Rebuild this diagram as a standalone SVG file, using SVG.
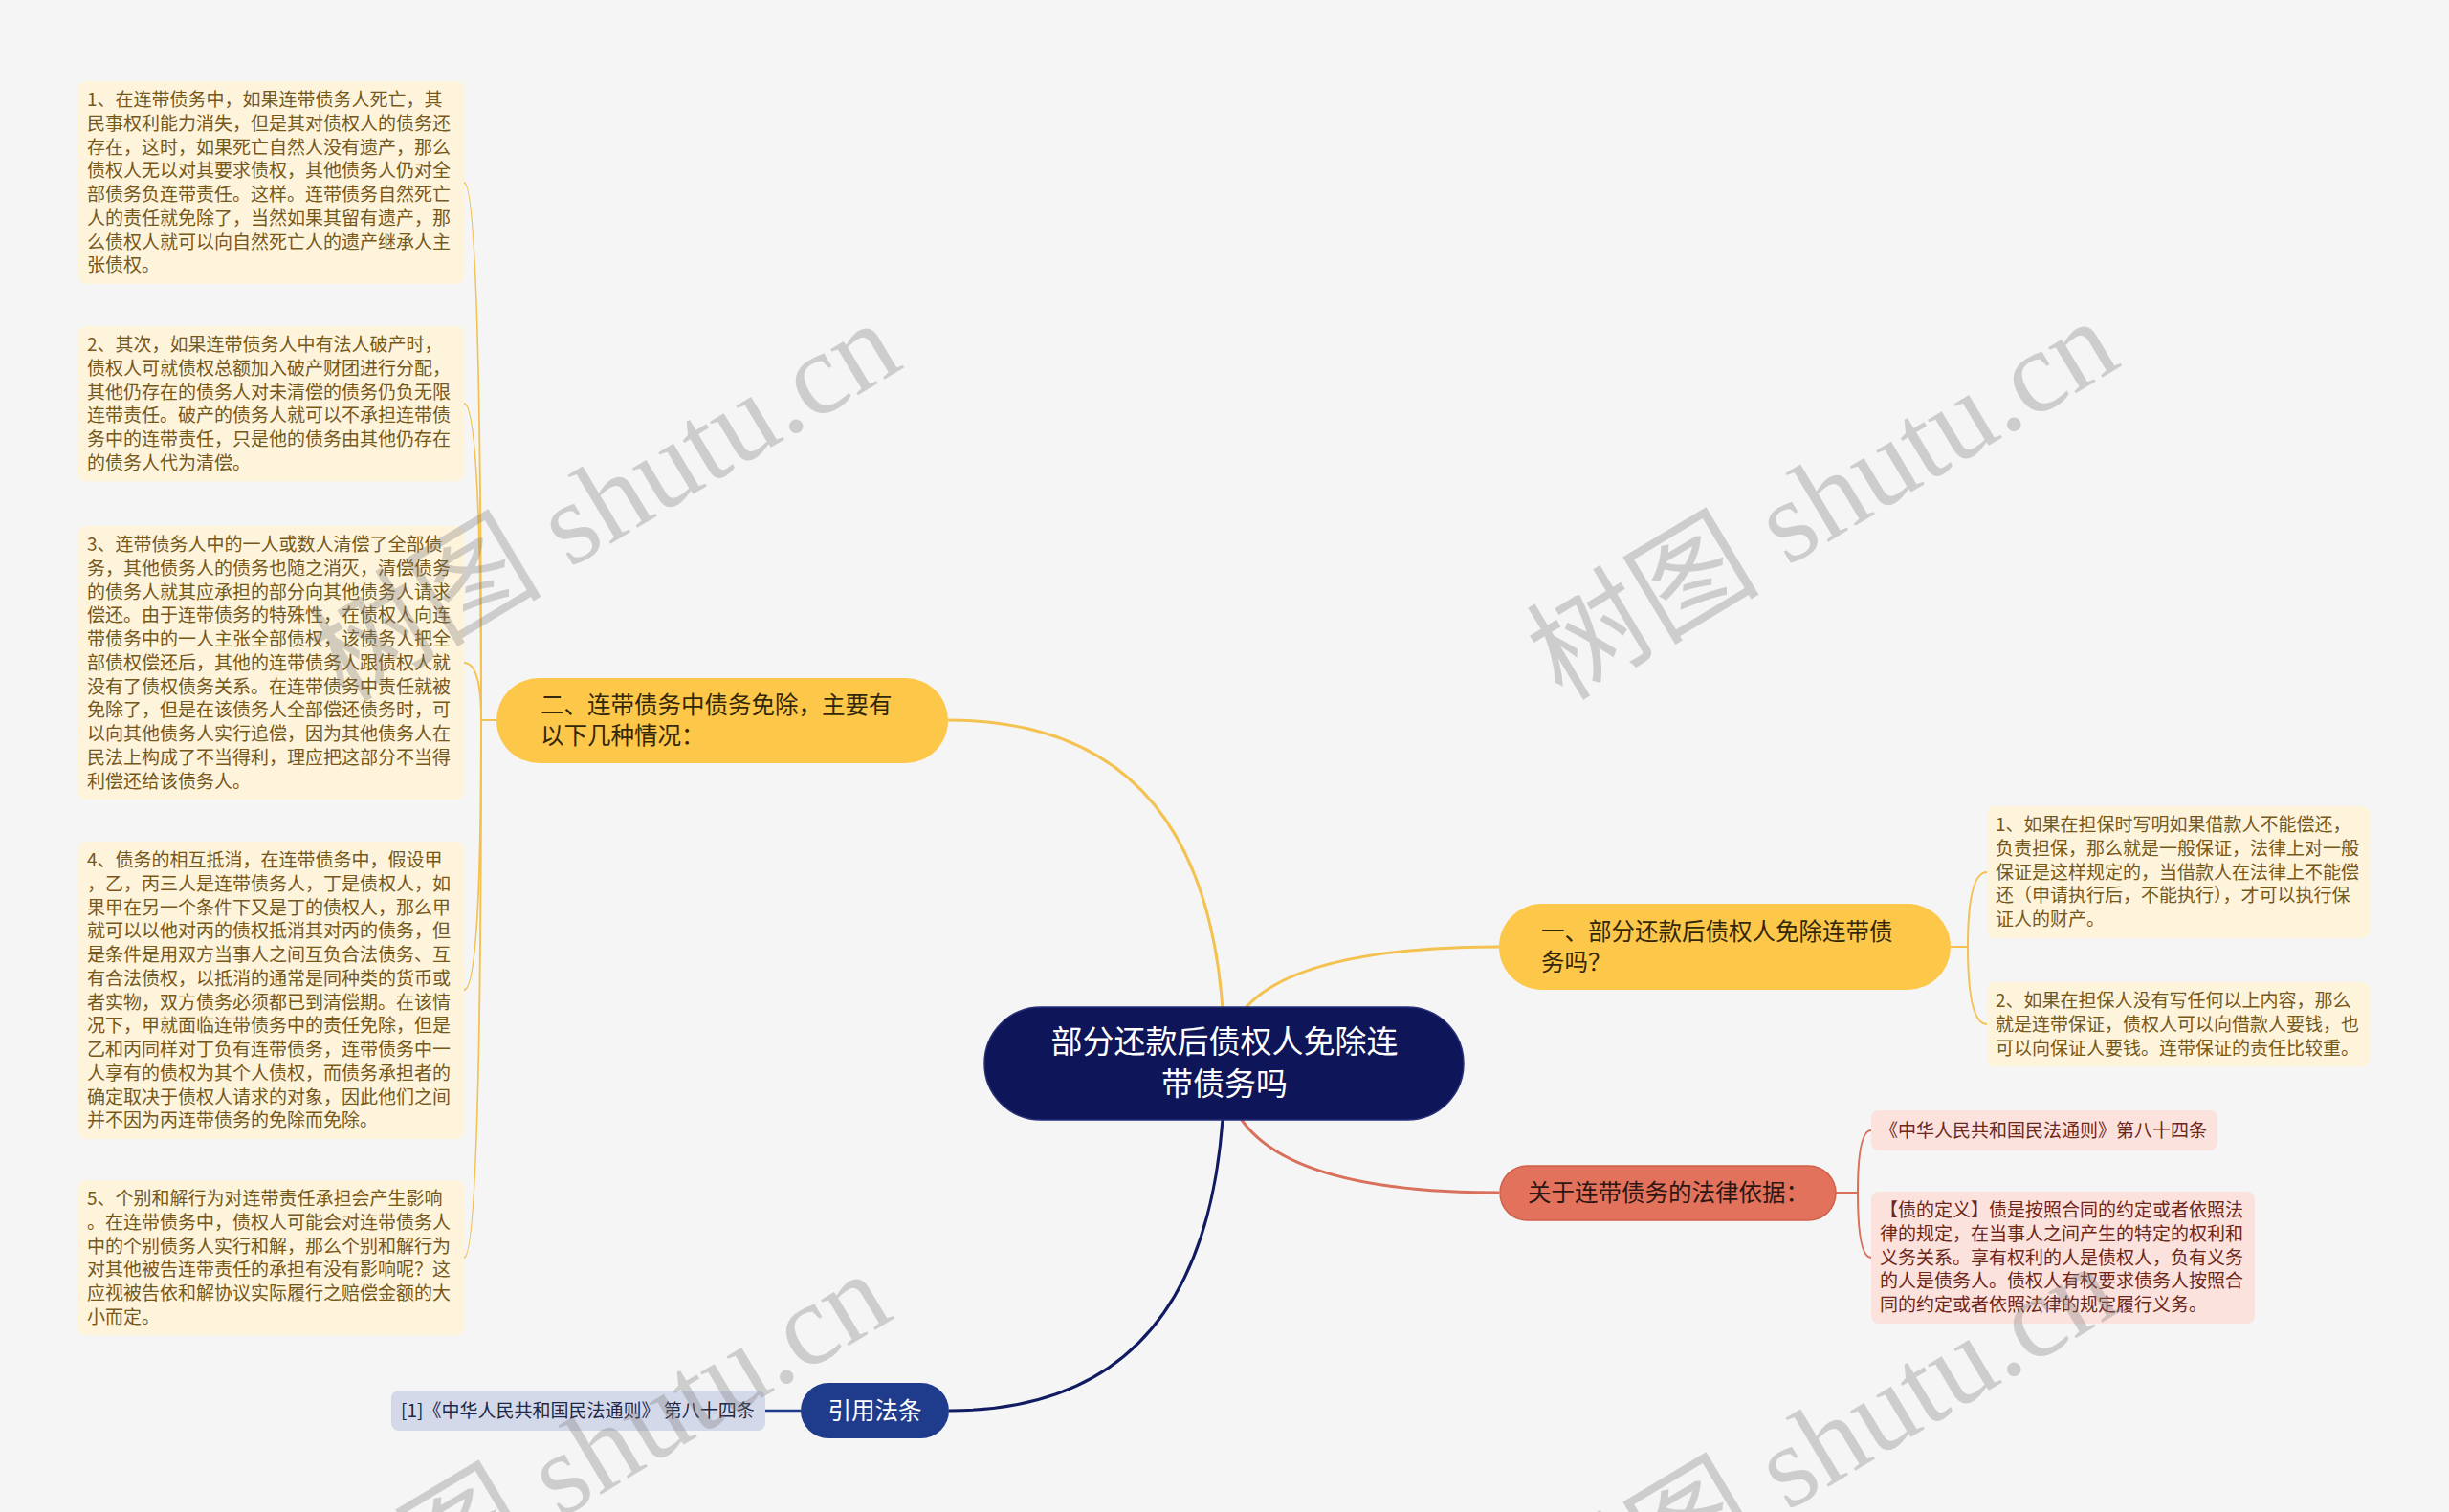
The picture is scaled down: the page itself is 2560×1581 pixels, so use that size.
<svg xmlns="http://www.w3.org/2000/svg" width="2560" height="1581" viewBox="0 0 2560 1581">
<style>
.bg{fill:#F5F5F5}
.t{font-family:"Noto Sans CJK SC","Noto Sans",sans-serif}
.leafY{fill:#FEF4DC}
.leafYt{fill:#76581A;font-size:19px}
.leafR{fill:#FBE2DD}
.leafRt{fill:#6E2618;font-size:19px}
.leafB{fill:#D4D9E9}
.leafBt{fill:#1E2649;font-size:19px}
.brY{fill:#FDC74A}
.brYt{fill:#33270A;font-size:24.5px}
.cY{fill:none;stroke:#F3C250;stroke-width:3}
.cY2{fill:none;stroke:#F3C250;stroke-width:2}
.cR{fill:none;stroke:#D9705C;stroke-width:3}
.cR2{fill:none;stroke:#D9705C;stroke-width:2}
.cN{fill:none;stroke:#111B62;stroke-width:3}
.cN2{fill:none;stroke:#1E3A8A;stroke-width:2.5}
.wm{font-family:"Liberation Serif","Noto Sans CJK SC",serif;font-size:122px;fill:#7a7a7a;fill-opacity:0.32}
</style>
<rect class="bg" x="0" y="0" width="2560" height="1581"/>

<g id="connectors">
  <path class="cY" d="M1280 1112 Q1280 753 991 753"/>
  <path class="cY" d="M1280 1112 Q1280 990 1567 990"/>
  <path class="cR" d="M1280 1112 Q1280 1247 1567 1247"/>
  <path class="cN" d="M1280 1112 Q1280 1475 992 1475"/>
  <path class="cN2" d="M837 1475 H800"/>
  <path class="cY2" d="M519 753 H503 Q503 191 485 191"/>
  <path class="cY2" d="M519 753 H503 Q503 422 485 422"/>
  <path class="cY2" d="M519 753 H503 Q503 693 485 693"/>
  <path class="cY2" d="M519 753 H503 Q503 1035 485 1035"/>
  <path class="cY2" d="M519 753 H503 Q503 1315 485 1315"/>
  <path class="cY2" d="M2039 990 H2057 Q2057 912 2077 912"/>
  <path class="cY2" d="M2039 990 H2057 Q2057 1071 2077 1071"/>
  <path class="cR2" d="M1919 1247 H1942 Q1942 1182 1956 1182"/>
  <path class="cR2" d="M1919 1247 H1942 Q1942 1315 1956 1315"/>
</g>

<g id="root">
  <rect x="1029" y="1053" width="501" height="118" rx="59" fill="#0E1558" stroke="#25307A" stroke-width="1.5"/>
  <text class="t" font-size="33" fill="#FFFFFF" text-anchor="middle"><tspan x="1280" y="1100.5">部分还款后债权人免除连</tspan><tspan x="1280" y="1144.5">带债务吗</tspan></text>
</g>

<g id="branch-2">
  <rect class="brY" x="519" y="709" width="472" height="89" rx="44.5"/>
  <text class="t brYt"><tspan x="565" y="746">二、连带债务中债务免除，主要有</tspan><tspan x="565" y="778">以下几种情况：</tspan></text>
</g>

<g id="branch-1">
  <rect class="brY" x="1567" y="945" width="472" height="90" rx="45"/>
  <text class="t brYt"><tspan x="1611" y="983">一、部分还款后债权人免除连带债</tspan><tspan x="1611" y="1015">务吗？</tspan></text>
</g>

<g id="branch-law">
  <rect x="1568" y="1219" width="351" height="57" rx="28.5" fill="#E2725C" stroke="#CF604C" stroke-width="1.5"/>
  <text class="t" font-size="24.5" fill="#2E1712" x="1597" y="1256">关于连带债务的法律依据：</text>
</g>

<g id="branch-cite">
  <rect x="837" y="1446" width="155" height="58" rx="29" fill="#1F3B8C"/>
  <text class="t" font-size="24.5" fill="#FFFFFF" text-anchor="middle" x="914.5" y="1484">引用法条</text>
</g>

<g id="leaf-l1">
  <rect class="leafY" x="82" y="85" width="403" height="212" rx="8"/>
  <text class="t leafYt"><tspan x="91" y="111">1、在连带债务中，如果连带债务人死亡，其</tspan><tspan x="91" dy="24.75">民事权利能力消失，但是其对债权人的债务还</tspan><tspan x="91" dy="24.75">存在，这时，如果死亡自然人没有遗产，那么</tspan><tspan x="91" dy="24.75">债权人无以对其要求债权，其他债务人仍对全</tspan><tspan x="91" dy="24.75">部债务负连带责任。这样。连带债务自然死亡</tspan><tspan x="91" dy="24.75">人的责任就免除了，当然如果其留有遗产，那</tspan><tspan x="91" dy="24.75">么债权人就可以向自然死亡人的遗产继承人主</tspan><tspan x="91" dy="24.75">张债权。</tspan></text>
</g>

<g id="leaf-l2">
  <rect class="leafY" x="82" y="341" width="403" height="162.5" rx="8"/>
  <text class="t leafYt"><tspan x="91" y="367">2、其次，如果连带债务人中有法人破产时，</tspan><tspan x="91" dy="24.75">债权人可就债权总额加入破产财团进行分配，</tspan><tspan x="91" dy="24.75">其他仍存在的债务人对未清偿的债务仍负无限</tspan><tspan x="91" dy="24.75">连带责任。破产的债务人就可以不承担连带债</tspan><tspan x="91" dy="24.75">务中的连带责任，只是他的债务由其他仍存在</tspan><tspan x="91" dy="24.75">的债务人代为清偿。</tspan></text>
</g>

<g id="leaf-l3">
  <rect class="leafY" x="82" y="550" width="403" height="286" rx="8"/>
  <text class="t leafYt"><tspan x="91" y="576">3、连带债务人中的一人或数人清偿了全部债</tspan><tspan x="91" dy="24.75">务，其他债务人的债务也随之消灭，清偿债务</tspan><tspan x="91" dy="24.75">的债务人就其应承担的部分向其他债务人请求</tspan><tspan x="91" dy="24.75">偿还。由于连带债务的特殊性，在债权人向连</tspan><tspan x="91" dy="24.75">带债务中的一人主张全部债权，该债务人把全</tspan><tspan x="91" dy="24.75">部债权偿还后，其他的连带债务人跟债权人就</tspan><tspan x="91" dy="24.75">没有了债权债务关系。在连带债务中责任就被</tspan><tspan x="91" dy="24.75">免除了，但是在该债务人全部偿还债务时，可</tspan><tspan x="91" dy="24.75">以向其他债务人实行追偿，因为其他债务人在</tspan><tspan x="91" dy="24.75">民法上构成了不当得利，理应把这部分不当得</tspan><tspan x="91" dy="24.75">利偿还给该债务人。</tspan></text>
</g>

<g id="leaf-l4">
  <rect class="leafY" x="82" y="880" width="403" height="311" rx="8"/>
  <text class="t leafYt"><tspan x="91" y="906">4、债务的相互抵消，在连带债务中，假设甲</tspan><tspan x="91" dy="24.75">，乙，丙三人是连带债务人，丁是债权人，如</tspan><tspan x="91" dy="24.75">果甲在另一个条件下又是丁的债权人，那么甲</tspan><tspan x="91" dy="24.75">就可以以他对丙的债权抵消其对丙的债务，但</tspan><tspan x="91" dy="24.75">是条件是用双方当事人之间互负合法债务、互</tspan><tspan x="91" dy="24.75">有合法债权，以抵消的通常是同种类的货币或</tspan><tspan x="91" dy="24.75">者实物，双方债务必须都已到清偿期。在该情</tspan><tspan x="91" dy="24.75">况下，甲就面临连带债务中的责任免除，但是</tspan><tspan x="91" dy="24.75">乙和丙同样对丁负有连带债务，连带债务中一</tspan><tspan x="91" dy="24.75">人享有的债权为其个人债权，而债务承担者的</tspan><tspan x="91" dy="24.75">确定取决于债权人请求的对象，因此他们之间</tspan><tspan x="91" dy="24.75">并不因为丙连带债务的免除而免除。</tspan></text>
</g>

<g id="leaf-l5">
  <rect class="leafY" x="82" y="1234" width="403" height="162.5" rx="8"/>
  <text class="t leafYt"><tspan x="91" y="1260">5、个别和解行为对连带责任承担会产生影响</tspan><tspan x="91" dy="24.75">。在连带债务中，债权人可能会对连带债务人</tspan><tspan x="91" dy="24.75">中的个别债务人实行和解，那么个别和解行为</tspan><tspan x="91" dy="24.75">对其他被告连带责任的承担有没有影响呢？这</tspan><tspan x="91" dy="24.75">应视被告依和解协议实际履行之赔偿金额的大</tspan><tspan x="91" dy="24.75">小而定。</tspan></text>
</g>

<g id="leaf-r1">
  <rect class="leafY" x="2077" y="843" width="400" height="138" rx="8"/>
  <text class="t leafYt"><tspan x="2086" y="869">1、如果在担保时写明如果借款人不能偿还，</tspan><tspan x="2086" dy="24.75">负责担保，那么就是一般保证，法律上对一般</tspan><tspan x="2086" dy="24.75">保证是这样规定的，当借款人在法律上不能偿</tspan><tspan x="2086" dy="24.75">还（申请执行后，不能执行），才可以执行保</tspan><tspan x="2086" dy="24.75">证人的财产。</tspan></text>
</g>

<g id="leaf-r2">
  <rect class="leafY" x="2077" y="1027" width="400" height="88.5" rx="8"/>
  <text class="t leafYt"><tspan x="2086" y="1053">2、如果在担保人没有写任何以上内容，那么</tspan><tspan x="2086" dy="24.75">就是连带保证，债权人可以向借款人要钱，也</tspan><tspan x="2086" dy="24.75">可以向保证人要钱。连带保证的责任比较重。</tspan></text>
</g>

<g id="leaf-law1">
  <rect class="leafR" x="1956" y="1161" width="362" height="42" rx="8"/>
  <text class="t leafRt" x="1965" y="1189">《中华人民共和国民法通则》第八十四条</text>
</g>

<g id="leaf-law2">
  <rect class="leafR" x="1956" y="1246" width="401" height="138" rx="8"/>
  <text class="t leafRt"><tspan x="1965" y="1272">【债的定义】债是按照合同的约定或者依照法</tspan><tspan x="1965" dy="24.75">律的规定，在当事人之间产生的特定的权利和</tspan><tspan x="1965" dy="24.75">义务关系。享有权利的人是债权人，负有义务</tspan><tspan x="1965" dy="24.75">的人是债务人。债权人有权要求债务人按照合</tspan><tspan x="1965" dy="24.75">同的约定或者依照法律的规定履行义务。</tspan></text>
</g>

<g id="leaf-cite">
  <rect class="leafB" x="409" y="1454" width="391" height="42" rx="8"/>
  <text class="t leafBt" x="419" y="1482">[1]《中华人民共和国民法通则》 第八十四条</text>
</g>

<g id="watermarks">
  <text class="wm" text-anchor="middle" dominant-baseline="central" transform="translate(632,524) rotate(-31)">树图 shutu.cn</text>
  <text class="wm" text-anchor="middle" dominant-baseline="central" transform="translate(1905,522) rotate(-31)">树图 shutu.cn</text>
  <text class="wm" text-anchor="middle" dominant-baseline="central" transform="translate(622,1518) rotate(-31)">树图 shutu.cn</text>
  <text class="wm" text-anchor="middle" dominant-baseline="central" transform="translate(1905,1510) rotate(-31)">树图 shutu.cn</text>
</g>
</svg>
